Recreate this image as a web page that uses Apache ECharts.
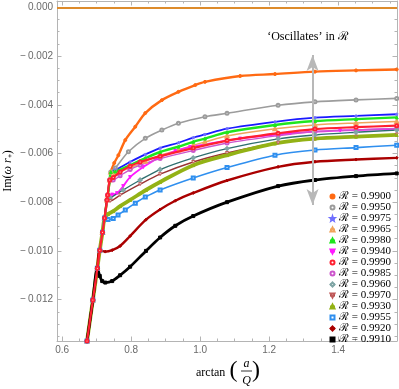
<!DOCTYPE html>
<html>
<head>
<meta charset="utf-8">
<script src="https://cdn.jsdelivr.net/npm/echarts@6/dist/echarts.min.js"></script>
<style>
  html, body { margin: 0; padding: 0; background: #fff; }
  #main { width: 399px; height: 389px; }
</style>
</head>
<body>
<div id="main"></div>
<script>
// 初始化 ECharts 实例
const chart = echarts.init(document.getElementById("main"));

// 所有曲线共用的陡峭上升段 [arctan(a/Q), Im(ω r+)]
const rise = [[0.672,-0.01370],[0.689,-0.01202],[0.702,-0.01071],[0.709,-0.00997],[0.717,-0.00923],
  [0.723,-0.00865],[0.730,-0.00791],[0.732,-0.00771],[0.738,-0.00709],[0.741,-0.00676]];

// 每条曲线离开上升段之后的部分
const b9900 = [[0.751,-0.00639],[0.763,-0.00607],[0.783,-0.00545],[0.812,-0.00490],[0.841,-0.00434],[0.889,-0.00381],
  [0.937,-0.00347],[0.986,-0.00319],[1.014,-0.00306],[1.116,-0.00282],[1.217,-0.00274],[1.333,-0.00264],[1.452,-0.00259],[1.570,-0.00255]];
const b9950 = [[0.754,-0.00660],[0.792,-0.00593],[0.841,-0.00538],[0.889,-0.00504],[0.937,-0.00476],[1.014,-0.00449],
  [1.078,-0.00435],[1.226,-0.00402],[1.333,-0.00388],[1.452,-0.00380],[1.570,-0.00374]];
const b9975 = [[0.754,-0.00668],[0.797,-0.00635],[0.841,-0.00604],[0.884,-0.00578],[0.937,-0.00556],[0.980,-0.00535],
  [1.014,-0.00522],[1.078,-0.00498],[1.217,-0.00470],[1.333,-0.00453],[1.452,-0.00446],[1.570,-0.00439]];
const b9965 = [[0.754,-0.00680],[0.797,-0.00658],[0.841,-0.00632],[0.884,-0.00608],[0.937,-0.00586],[0.980,-0.00566],
  [1.014,-0.00553],[1.078,-0.00528],[1.217,-0.00499],[1.333,-0.00483],[1.452,-0.00475],[1.570,-0.00469]];
const b9980 = [[0.754,-0.00674],[0.797,-0.00648],[0.841,-0.00619],[0.884,-0.00594],[0.937,-0.00572],[0.980,-0.00552],
  [1.014,-0.00539],[1.078,-0.00513],[1.217,-0.00483],[1.333,-0.00467],[1.452,-0.00459],[1.570,-0.00452]];
const b9940 = [[0.745,-0.00769],[0.759,-0.00763],[0.777,-0.00734],[0.797,-0.00697],[0.835,-0.00656],[0.875,-0.00621],
  [0.928,-0.00590],[0.971,-0.00574],[1.116,-0.00539],[1.261,-0.00517],[1.406,-0.00506],[1.570,-0.00499]];
const b9990 = [[0.748,-0.00699],[0.768,-0.00676],[0.797,-0.00652],[0.826,-0.00635],[0.884,-0.00611],[0.980,-0.00578],
  [1.078,-0.00547],[1.226,-0.00517],[1.333,-0.00500],[1.452,-0.00492],[1.570,-0.00486]];
const b9985 = [[0.748,-0.00709],[0.768,-0.00691],[0.797,-0.00666],[0.826,-0.00648],[0.884,-0.00621],[0.980,-0.00588],
  [1.078,-0.00557],[1.226,-0.00527],[1.333,-0.00510],[1.452,-0.00503],[1.570,-0.00497]];
const b9960 = [[0.739,-0.00783],[0.777,-0.00750],[0.826,-0.00709],[0.884,-0.00666],[0.980,-0.00618],[1.078,-0.00580],
  [1.226,-0.00540],[1.333,-0.00524],[1.452,-0.00513],[1.570,-0.00504]];
const b9970 = [[0.739,-0.00795],[0.768,-0.00771],[0.826,-0.00726],[0.884,-0.00685],[0.980,-0.00635],[1.078,-0.00598],
  [1.226,-0.00556],[1.333,-0.00541],[1.452,-0.00531],[1.570,-0.00522]];
const b9930 = [[0.733,-0.00849],[0.748,-0.00837],[0.768,-0.00816],[0.797,-0.00791],[0.843,-0.00750],[0.884,-0.00717],
  [0.980,-0.00648],[1.078,-0.00607],[1.217,-0.00559],[1.333,-0.00539],[1.452,-0.00531],[1.570,-0.00524]];
const b9955 = [[0.733,-0.00871],[0.748,-0.00867],[0.762,-0.00853],[0.783,-0.00832],[0.812,-0.00804],[0.841,-0.00779],
  [0.884,-0.00750],[0.980,-0.00701],[1.078,-0.00658],[1.217,-0.00607],[1.333,-0.00586],[1.452,-0.00576],[1.570,-0.00566]];
const b9920 = [[0.725,-0.01003],[0.745,-0.00997],[0.768,-0.00980],[0.797,-0.00939],[0.843,-0.00872],[0.884,-0.00830],
  [0.928,-0.00794],[0.980,-0.00762],[1.078,-0.00711],[1.226,-0.00655],[1.333,-0.00634],[1.452,-0.00625],[1.570,-0.00618]];
const b9910 = [[0.709,-0.01103],[0.716,-0.01124],[0.725,-0.01130],[0.745,-0.01124],[0.768,-0.01100],[0.797,-0.01065],
  [0.843,-0.01000],[0.884,-0.00945],[0.928,-0.00897],[0.980,-0.00857],[1.078,-0.00800],[1.226,-0.00734],[1.333,-0.00709],
  [1.452,-0.00693],[1.570,-0.00682]];

// 图例顺序
const rValues = ["0.9900","0.9950","0.9975","0.9965","0.9980","0.9940","0.9990","0.9985","0.9960","0.9970","0.9930","0.9955","0.9920","0.9910"];
const branches = [b9900,b9950,b9975,b9965,b9980,b9940,b9990,b9985,b9960,b9970,b9930,b9955,b9920,b9910];
// 每条曲线沿上升段走到第几个点
const riseCounts = [10,10,10,10,10,8,9,9,7,7,6,6,4,3];

// 刻度
const xMajor = [0.6,0.8,1.0,1.2,1.4];
const xMinor = [0.65,0.7,0.75,0.85,0.9,0.95,1.05,1.1,1.15,1.25,1.3,1.35,1.45,1.5,1.55];
const yMajor = [0,-0.002,-0.004,-0.006,-0.008,-0.010,-0.012];
const yMinor = [-0.0005,-0.001,-0.0015,-0.0025,-0.003,-0.0035,-0.0045,-0.005,-0.0055,-0.0065,-0.007,-0.0075,
  -0.0085,-0.009,-0.0095,-0.0105,-0.011,-0.0115,-0.0125,-0.013,-0.0135];

// 注释箭头的位置（数据坐标）
const arrowX = 1.326;
const arrowTop = -0.00196;
const arrowBottom = -0.00812;

const X_MIN = 0.585, X_MAX = Math.PI / 2;
const Y_MIN = -0.0137, Y_MAX = 0.00026;

const downTri = "path://M0,0L10,0L5,9Z";
const star = "path://M5,0L6.2,3.6L10,3.7L7,6L8.1,9.7L5,7.5L1.9,9.7L3,6L0,3.7L3.8,3.6Z";

// 线色 / 标记 / 填充 / 线宽
const styles = [
  { line: "#ff6a13", symbol: "circle", fill: "#ff6a13", edge: "#ff6a13", width: 2.4 },
  { line: "#9c9c9c", symbol: "emptyCircle", fill: "#9c9c9c", edge: "#9c9c9c", width: 1.6 },
  { line: "#1a1aff", symbol: star, fill: "#7070ff", edge: "#7070ff", width: 1.8 },
  { line: "#f0a45c", symbol: "emptyTriangle", fill: "#f0a45c", edge: "#f0a45c", width: 1.5 },
  { line: "#1ee61e", symbol: "triangle", fill: "#1ee61e", edge: "#1ee61e", width: 2.4 },
  { line: "#ff1aff", symbol: downTri, fill: "#ff1aff", edge: "#ff1aff", width: 1.8 },
  { line: "#ff2030", symbol: "emptyCircle", fill: "#ff2030", edge: "#ff2030", width: 2.2 },
  { line: "#cc55cc", symbol: "emptyCircle", fill: "#cc55cc", edge: "#cc55cc", width: 1.4 },
  { line: "#2f6f6f", symbol: "emptyDiamond", fill: "#7fa5a5", edge: "#7fa5a5", width: 1.4 },
  { line: "#993333", symbol: downTri, fill: "#ffffff", edge: "#c05a5a", width: 1.4 },
  { line: "#93b215", symbol: "triangle", fill: "#93b215", edge: "#93b215", width: 3.8 },
  { line: "#2f8fef", symbol: "emptyRect", fill: "#2f8fef", edge: "#2f8fef", width: 1.6 },
  { line: "#aa0000", symbol: "diamond", fill: "#aa0000", edge: "#aa0000", width: 2.4 },
  { line: "#000000", symbol: "rect", fill: "#000000", edge: "#000000", width: 2.8 },
];

const series = rValues.map((r, i) => ({
  name: "ℛ = " + r,
  type: "line",
  data: rise.slice(0, riseCounts[i]).concat(branches[i]),
  smooth: 0.3,
  symbol: styles[i].symbol,
  symbolSize: 3,
  showAllSymbol: true,
  lineStyle: { color: styles[i].line, width: styles[i].width },
  itemStyle: { color: styles[i].fill, borderColor: styles[i].edge, borderWidth: 1 },
  emphasis: { disabled: true },
  z: i === 6 ? 5 : 3,
}));

// 灰色双向箭头
series[1].markLine = {
  silent: true,
  symbol: ["arrow", "arrow"],
  symbolSize: [9, 16],
  label: { show: false },
  lineStyle: { color: "#b8b8b8", width: 2, type: "solid" },
  data: [[{ coord: [arrowX, arrowTop] }, { coord: [arrowX, arrowBottom] }]],
};
// y = 0 的橙色线
series[13].markLine = {
  silent: true,
  symbol: "none",
  label: { show: false },
  lineStyle: { color: "#dd8b2b", width: 2, type: "solid" },
  data: [{ yAxis: 0 }],
};

const axisGrey = "#b4b4b4";
function frameAxis(pos, min, max, ticks, len, showLine, label) {
  return {
    type: "value", position: pos, min: min, max: max,
    axisLine: { show: showLine, onZero: false, lineStyle: { color: axisGrey, width: 1 } },
    axisTick: { show: true, inside: true, length: len, customValues: ticks, lineStyle: { color: axisGrey } },
    axisLabel: label || { show: false },
    splitLine: { show: false },
  };
}

const labelFont = { color: "#6a6a6a", fontSize: 10, fontFamily: "Liberation Sans" };

const option = {
  animation: false,
  grid: { left: 57, right: 2, top: 1, bottom: 48 },
  xAxis: [
    frameAxis("bottom", X_MIN, X_MAX, xMajor, 4.5, true,
      Object.assign({ customValues: xMajor, margin: 4, formatter: (v) => v.toFixed(1) }, labelFont)),
    frameAxis("bottom", X_MIN, X_MAX, xMinor, 2.5, false),
    frameAxis("top", X_MIN, X_MAX, xMajor, 4.5, true),
    frameAxis("top", X_MIN, X_MAX, xMinor, 2.5, false),
  ],
  yAxis: [
    frameAxis("left", Y_MIN, Y_MAX, yMajor, 4.5, true,
      Object.assign({ customValues: yMajor, margin: 4,
        formatter: (v) => (Math.abs(v) < 1e-9 ? "0.000" : "\u2212\u2009" + Math.abs(v).toFixed(3)) }, labelFont)),
    frameAxis("left", Y_MIN, Y_MAX, yMinor, 2.5, false),
    frameAxis("right", Y_MIN, Y_MAX, yMajor, 4.5, true),
    frameAxis("right", Y_MIN, Y_MAX, yMinor, 2.5, false),
  ],
  legend: {
    orient: "vertical",
    left: 324,
    top: 186,
    itemWidth: 5,
    itemHeight: 5,
    itemGap: 0,
    selectedMode: false,
    textStyle: { fontFamily: "Liberation Serif", fontSize: 11, lineHeight: 10.9, color: "#000", padding: [0, 0, 0, -1] },
    data: rValues.map((r) => "ℛ = " + r),
  },
  graphic: [
    { type: "text", x: 8, y: 171, rotation: Math.PI / 2,
      style: { text: "{a|Im(}{b|ω r}{a|₊)}", align: "center", verticalAlign: "middle", fill: "#000",
        rich: { a: { fontFamily: "Liberation Serif", fontSize: 12 },
                b: { fontFamily: "Liberation Serif", fontSize: 12, fontStyle: "italic" } } } },
    { type: "text", x: 196, y: 373,
      style: { text: "arctan", font: '12px "Liberation Serif"', verticalAlign: "middle", fill: "#000" } },
    { type: "text", x: 233.5, y: 371,
      style: { text: "(", font: '24px "Liberation Serif"', align: "center", verticalAlign: "middle", fill: "#000" } },
    { type: "text", x: 246.5, y: 364,
      style: { text: "a", font: 'italic 12px "Liberation Serif"', align: "center", verticalAlign: "middle", fill: "#000" } },
    { type: "line", shape: { x1: 241, y1: 371, x2: 252, y2: 371 }, style: { stroke: "#000", lineWidth: 0.8 } },
    { type: "text", x: 246.5, y: 381,
      style: { text: "Q", font: 'italic 12px "Liberation Serif"', align: "center", verticalAlign: "middle", fill: "#000" } },
    { type: "text", x: 256, y: 371,
      style: { text: ")", font: '24px "Liberation Serif"', align: "center", verticalAlign: "middle", fill: "#000" } },
    { type: "text", x: 307.5, y: 37,
      style: { text: "‘Oscillates’ in ℛ", font: '12px "Liberation Serif"', align: "center", verticalAlign: "middle", fill: "#000" } },
  ],
  series: series,
};

// 使用刚指定的配置项和数据显示图表
chart.setOption(option);
</script>
</body>
</html>
